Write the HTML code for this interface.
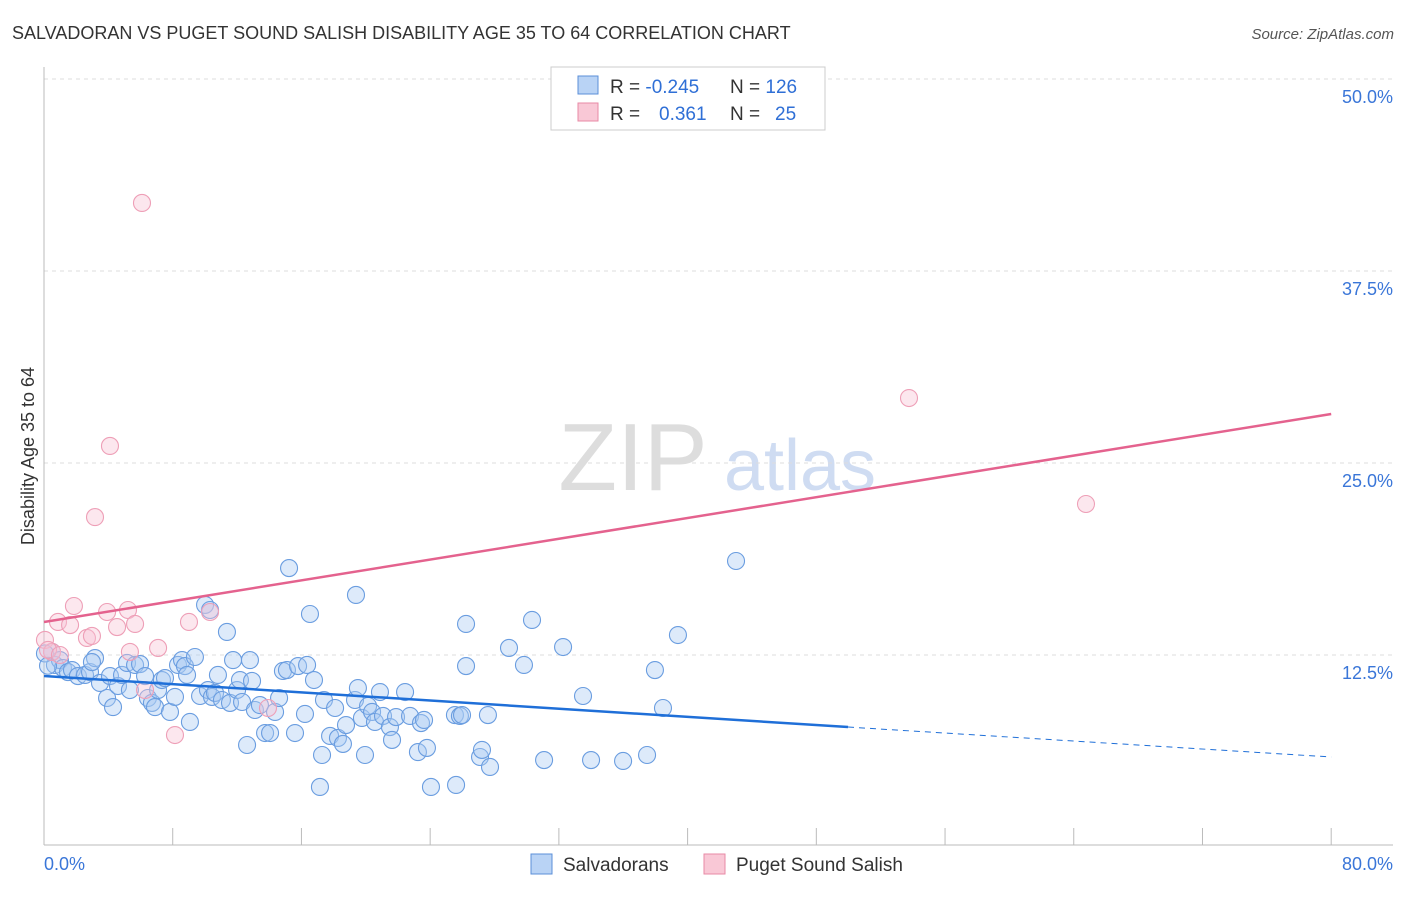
<!DOCTYPE html>
<html><head><meta charset="utf-8"><style>
body{margin:0;background:#fff;font-family:"Liberation Sans",sans-serif;}
svg text{font-family:"Liberation Sans",sans-serif;}
</style></head><body>
<svg width="1406" height="892" xmlns="http://www.w3.org/2000/svg">
<text x="12" y="39" font-size="18" fill="#333">SALVADORAN VS PUGET SOUND SALISH DISABILITY AGE 35 TO 64 CORRELATION CHART</text>
<text x="1394" y="39" font-size="15" fill="#555" font-style="italic" text-anchor="end">Source: ZipAtlas.com</text>
<text x="633" y="490" font-size="96" fill="#ddd" font-family="Liberation Serif" text-anchor="middle">ZIP</text>
<text x="800" y="490" font-size="72" fill="#cfdcf2" text-anchor="middle">atlas</text>
<g id="grid"></g>
<g id="axes"></g>
<g id="pts"></g>
<g id="trend"></g>
<text x="34" y="456" font-size="18" fill="#333" text-anchor="middle" transform="rotate(-90 34 456)">Disability Age 35 to 64</text>
<g>
<rect x="551" y="67" width="274" height="63" fill="#fff" stroke="#ccc"/>
<rect x="578" y="76" width="20" height="18" fill="#b9d3f5" stroke="#5b8fd8"/>
<rect x="578" y="103" width="20" height="18" fill="#f9c8d6" stroke="#e88aa6"/>
<text x="610" y="93" font-size="19" fill="#333">R = <tspan fill="#2f6fd6">-0.245</tspan></text>
<text x="730" y="93" font-size="19" fill="#333">N = <tspan fill="#2f6fd6">126</tspan></text>
<text x="610" y="120" font-size="19" fill="#333">R = <tspan fill="#2f6fd6" x="659">0.361</tspan></text>
<text x="730" y="120" font-size="19" fill="#333">N = <tspan fill="#2f6fd6" x="775">25</tspan></text>
</g>
<g>
<rect x="531" y="854" width="21" height="20" fill="#b9d3f5" stroke="#5b8fd8"/>
<text x="563" y="871" font-size="19" fill="#333">Salvadorans</text>
<rect x="704" y="854" width="21" height="20" fill="#f9c8d6" stroke="#e88aa6"/>
<text x="736" y="871" font-size="19" fill="#333">Puget Sound Salish</text>
</g>
</svg>
<script>
const yTicks=[12.5,25,37.5,50];
const yTickLabels=["12.5%","25.0%","37.5%","50.0%"];
const xTicks=[0,8,16,24,32,40,48,56,64,72,80];
const blueX=[0.5,0.68,0.99,1.18,1.49,1.74,2.11,2.55,2.86,3.17,2.98,3.48,3.92,4.1,4.29,4.6,4.85,5.16,5.34,5.66,5.97,6.28,6.46,6.71,6.9,7.09,7.33,7.52,7.83,8.14,8.33,8.58,8.76,8.89,9.07,9.38,9.7,10.01,10.19,10.32,10.44,10.63,10.81,11.06,11.37,11.56,11.75,12.0,12.18,12.31,12.62,12.8,12.93,13.11,13.42,13.74,14.05,14.36,14.61,14.85,15.1,15.23,15.6,15.79,16.22,16.35,16.53,16.78,17.15,17.28,17.4,17.78,18.09,18.27,18.58,18.77,19.33,19.39,19.51,19.76,19.95,20.14,20.39,20.57,20.88,21.07,21.5,21.63,21.88,22.44,22.75,23.24,23.43,23.62,23.8,24.05,25.54,25.61,25.85,26.23,26.23,27.1,27.22,27.59,27.72,28.9,29.83,30.33,31.08,32.26,33.5,34.0,35.99,37.48,37.97,38.47,39.4,43.01,25.98,0.06,0.25];
const blueY=[12.7,11.85,12.17,11.65,11.39,11.52,11.13,11.2,11.39,12.3,12.04,10.68,9.7,11.13,9.11,10.48,11.2,11.98,10.22,11.85,11.91,11.13,9.7,9.38,9.11,10.22,10.87,11.0,8.79,9.77,11.85,12.17,11.78,11.2,8.14,12.37,9.83,15.76,10.22,15.43,9.77,10.03,11.2,9.57,14.0,9.38,12.17,10.22,10.87,9.44,6.64,12.17,10.81,8.92,9.24,7.42,7.42,8.79,9.7,11.46,11.52,18.16,7.42,11.78,8.66,11.85,15.17,10.87,3.91,5.99,9.57,7.23,9.05,7.1,6.71,7.94,9.57,16.41,10.35,8.4,5.99,9.18,8.79,8.14,10.09,8.53,7.81,6.97,8.46,10.09,8.53,6.18,8.07,8.27,6.45,3.91,8.59,4.04,8.53,14.52,11.78,5.86,6.32,8.59,5.21,12.96,11.85,14.78,5.66,13.02,9.83,5.66,5.6,5.99,11.52,9.05,13.8,18.62,8.59,12.6,11.8];
const pinkX=[0.06,0.5,0.87,1.62,1.86,2.67,2.98,3.17,3.92,4.1,4.54,5.22,5.34,5.66,6.09,6.28,7.09,8.14,9.01,10.32,13.92,53.76,64.76,0.25,0.99];
const pinkY=[13.48,12.7,14.65,14.45,15.69,13.61,13.74,21.48,15.3,26.11,14.32,15.43,12.7,14.52,41.93,10.22,12.96,7.29,14.65,15.3,9.05,29.23,22.33,12.83,12.5];
const blueTrend=[[0,11.13],[49.97,7.81],[80,5.86]];
const pinkTrend=[[0,14.65],[80,28.19]];
const NS="http://www.w3.org/2000/svg";
const X=v=>44+v*16.09, Y=v=>847-v*15.36;
function mk(t,a,p){const e=document.createElementNS(NS,t);for(const k in a)e.setAttribute(k,a[k]);p.appendChild(e);return e;}
const grid=document.getElementById('grid'),axes=document.getElementById('axes'),pts=document.getElementById('pts'),tr=document.getElementById('trend');
yTicks.forEach((t,i)=>{const l=mk('line',{x1:44,x2:1393,y1:Y(t),y2:Y(t),stroke:'#ddd','stroke-dasharray':'4,4'},grid);


const tx=mk('text',{x:1393,y:Y(t)+24,'font-size':18,fill:'#3a76d8','text-anchor':'end'},axes);tx.textContent=yTickLabels[i];

});
mk('line',{x1:44,x2:44,y1:67,y2:845,stroke:'#bbb'},axes);
mk('line',{x1:44,x2:1393,y1:845,y2:845,stroke:'#bbb'},axes);
xTicks.forEach(t=>{const l=mk('line',{x1:X(t),x2:X(t),y1:828,y2:845,stroke:'#bbb'},axes);

});
const t0=mk('text',{x:44,y:870,'font-size':18,fill:'#3a76d8'},axes);t0.textContent='0.0%';


const t1=mk('text',{x:1393,y:870,'font-size':18,fill:'#3a76d8','text-anchor':'end'},axes);t1.textContent='80.0%';


for(let i=0;i<Math.min(blueX.length,blueY.length);i++){const c=mk('circle',{cx:X(blueX[i]),cy:Y(blueY[i]),r:8.5,fill:'rgba(170,202,242,0.4)',stroke:'#6a9de0','stroke-width':1.1},pts);

}
for(let i=0;i<Math.min(pinkX.length,pinkY.length);i++){const c=mk('circle',{cx:X(pinkX[i]),cy:Y(pinkY[i]),r:8.5,fill:'rgba(248,195,212,0.4)',stroke:'#ee9fb7','stroke-width':1.1},pts);

}
let b=mk('line',{x1:X(blueTrend[0][0]),y1:Y(blueTrend[0][1]),x2:X(blueTrend[1][0]),y2:Y(blueTrend[1][1]),stroke:'#1f6fd8','stroke-width':2.5},tr);


b=mk('line',{x1:X(blueTrend[1][0]),y1:Y(blueTrend[1][1]),x2:X(blueTrend[2][0]),y2:Y(blueTrend[2][1]),stroke:'#1f6fd8','stroke-width':1,'stroke-dasharray':'6,5'},tr);


b=mk('line',{x1:X(pinkTrend[0][0]),y1:Y(pinkTrend[0][1]),x2:X(pinkTrend[1][0]),y2:Y(pinkTrend[1][1]),stroke:'#e4628e','stroke-width':2.5},tr);


</script>
</body></html>
